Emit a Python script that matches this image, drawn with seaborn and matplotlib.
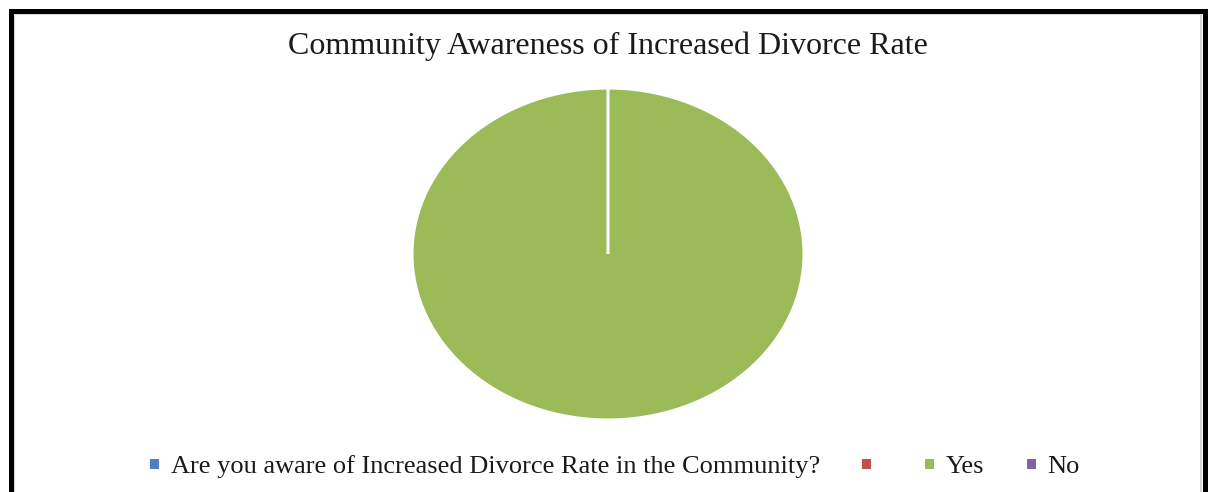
import matplotlib
matplotlib.use("Agg")
import matplotlib.pyplot as plt
from matplotlib.patches import Rectangle
import seaborn as sns

# chart data
labels = ["Are you aware of Increased Divorce Rate in the Community?", "", "Yes", "No"]
values = [0, 0, 100, 0]
colors = ["#4F81BD", "#C0504D", "#9BBB59", "#8064A2"]
title = "Community Awareness of Increased Divorce Rate"

sns.set_theme(style="white")
plt.rcParams["font.family"] = ["Liberation Serif", "DejaVu Serif"]

W, H = 1213, 492
fig = plt.figure(figsize=(W / 100, H / 100), dpi=100)
fig.patch.set_facecolor("white")

# pie axes placed so the (elliptical) pie fills it
ax = fig.add_axes([412 / W, (H - 420) / H, 392 / W, 332 / H])
wedges, _ = ax.pie(values, colors=colors, startangle=90, counterclock=False,
                   radius=1, wedgeprops={"edgecolor": "white", "linewidth": 2.2})
ax.set_aspect("auto")
ax.set_xlim(-1.0, 1.0)
ax.set_ylim(-1.0, 1.0)
ax.axis("off")

fig.text(608 / W, 1 - 46 / H, title, ha="center", va="center", fontsize=23, color="#1a1a1a")

# legend handles: plain squares without the white wedge outline
handles = [Rectangle((0, 0), 1, 1, facecolor=c, edgecolor="none") for c in colors]
leg = fig.legend(handles, labels, loc="center", bbox_to_anchor=(615 / W, 1 - 467 / H),
                 ncol=4, frameon=False, fontsize=19, handlelength=0.34, handleheight=0.26,
                 handletextpad=0.45, columnspacing=1.6, borderaxespad=0)
for t in leg.get_texts():
    t.set_color("#1a1a1a")

# outer frame (bottom edge runs off the picture)
fig.patches.append(Rectangle((10.5 / W, -0.1), (1204.5 - 10.5) / W, 1.1 - 10.5 / H,
                             transform=fig.transFigure, fill=False, edgecolor="black",
                             linewidth=3.6, zorder=10))
fig.patches.append(Rectangle((14 / W, -0.1), (1201 - 14) / W, 1.1 - 14 / H,
                             transform=fig.transFigure, fill=False, edgecolor="#d8d8d8",
                             linewidth=1.5, zorder=9))

fig.savefig("out.png", dpi=100, facecolor="white")
